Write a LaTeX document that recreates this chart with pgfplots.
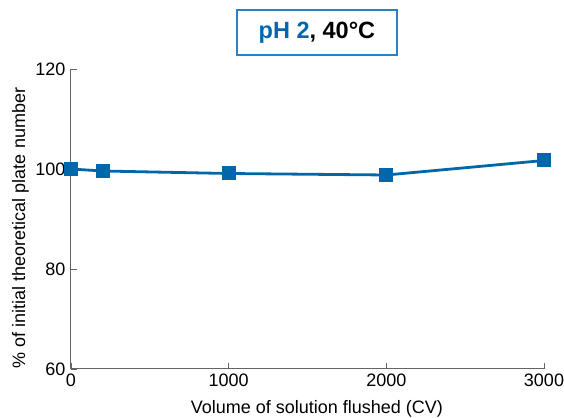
\documentclass[border=0pt]{standalone}
\usepackage{fontspec}
\setmainfont{Liberation Sans}
\usepackage{pgfplots}
\pgfplotsset{compat=1.18}
\definecolor{lineblue}{RGB}{0,104,170}
\definecolor{boxblue}{RGB}{40,130,200}
\definecolor{axisgray}{RGB}{100,100,100}

\begin{document}
\begin{tikzpicture}
\begin{axis}[
    scale only axis,
    width=473pt, height=300pt,
    xmin=0, xmax=3000, ymin=60, ymax=120,
    axis x line*=bottom, axis y line*=left,
    axis line style={axisgray, line width=1pt},
    tick style={axisgray, line width=0.8pt},
    tick align=inside,
    major tick length=6pt,
    xtick={0,1000,2000,3000}, ytick={60,80,100,120},
    ticklabel style={font=\fontsize{18}{20}\selectfont},
    /pgf/number format/assume math mode=true,
    /pgf/number format/1000 sep={},
    xticklabel style={yshift=-1pt},
    yticklabel style={xshift=-2pt},
    xlabel={Volume of solution flushed (CV)},
    ylabel={\% of initial theoretical plate number},
    label style={font=\fontsize{18}{20}\selectfont},
    xlabel style={at={(axis description cs:0.52,-0.147)}, anchor=base},
    ylabel style={at={(axis description cs:-0.097,0.47)}, anchor=base},
    clip=false,
]
\addplot[lineblue, line width=2.8pt, mark=square*, mark size=6.5pt,
         mark options={fill=lineblue, draw=lineblue, line width=0pt}]
  coordinates {(0,100.0) (200,99.6) (1000,99.1) (2000,98.8) (3000,101.7)};
\node[draw=boxblue, line width=1.3pt, minimum width=160pt, minimum height=45pt,
      font=\bfseries\fontsize{23.5}{26}\selectfont]
  at (rel axis cs:0.52,1.1217) {\textcolor{lineblue}{pH 2}, 40°C};
\coordinate (bbsw) at (rel axis cs:-0.1501,-0.16);
\coordinate (bbne) at (rel axis cs:1.0423,1.23);
\end{axis}
\pgfresetboundingbox
\useasboundingbox (bbsw) rectangle (bbne);
\end{tikzpicture}
\end{document}
